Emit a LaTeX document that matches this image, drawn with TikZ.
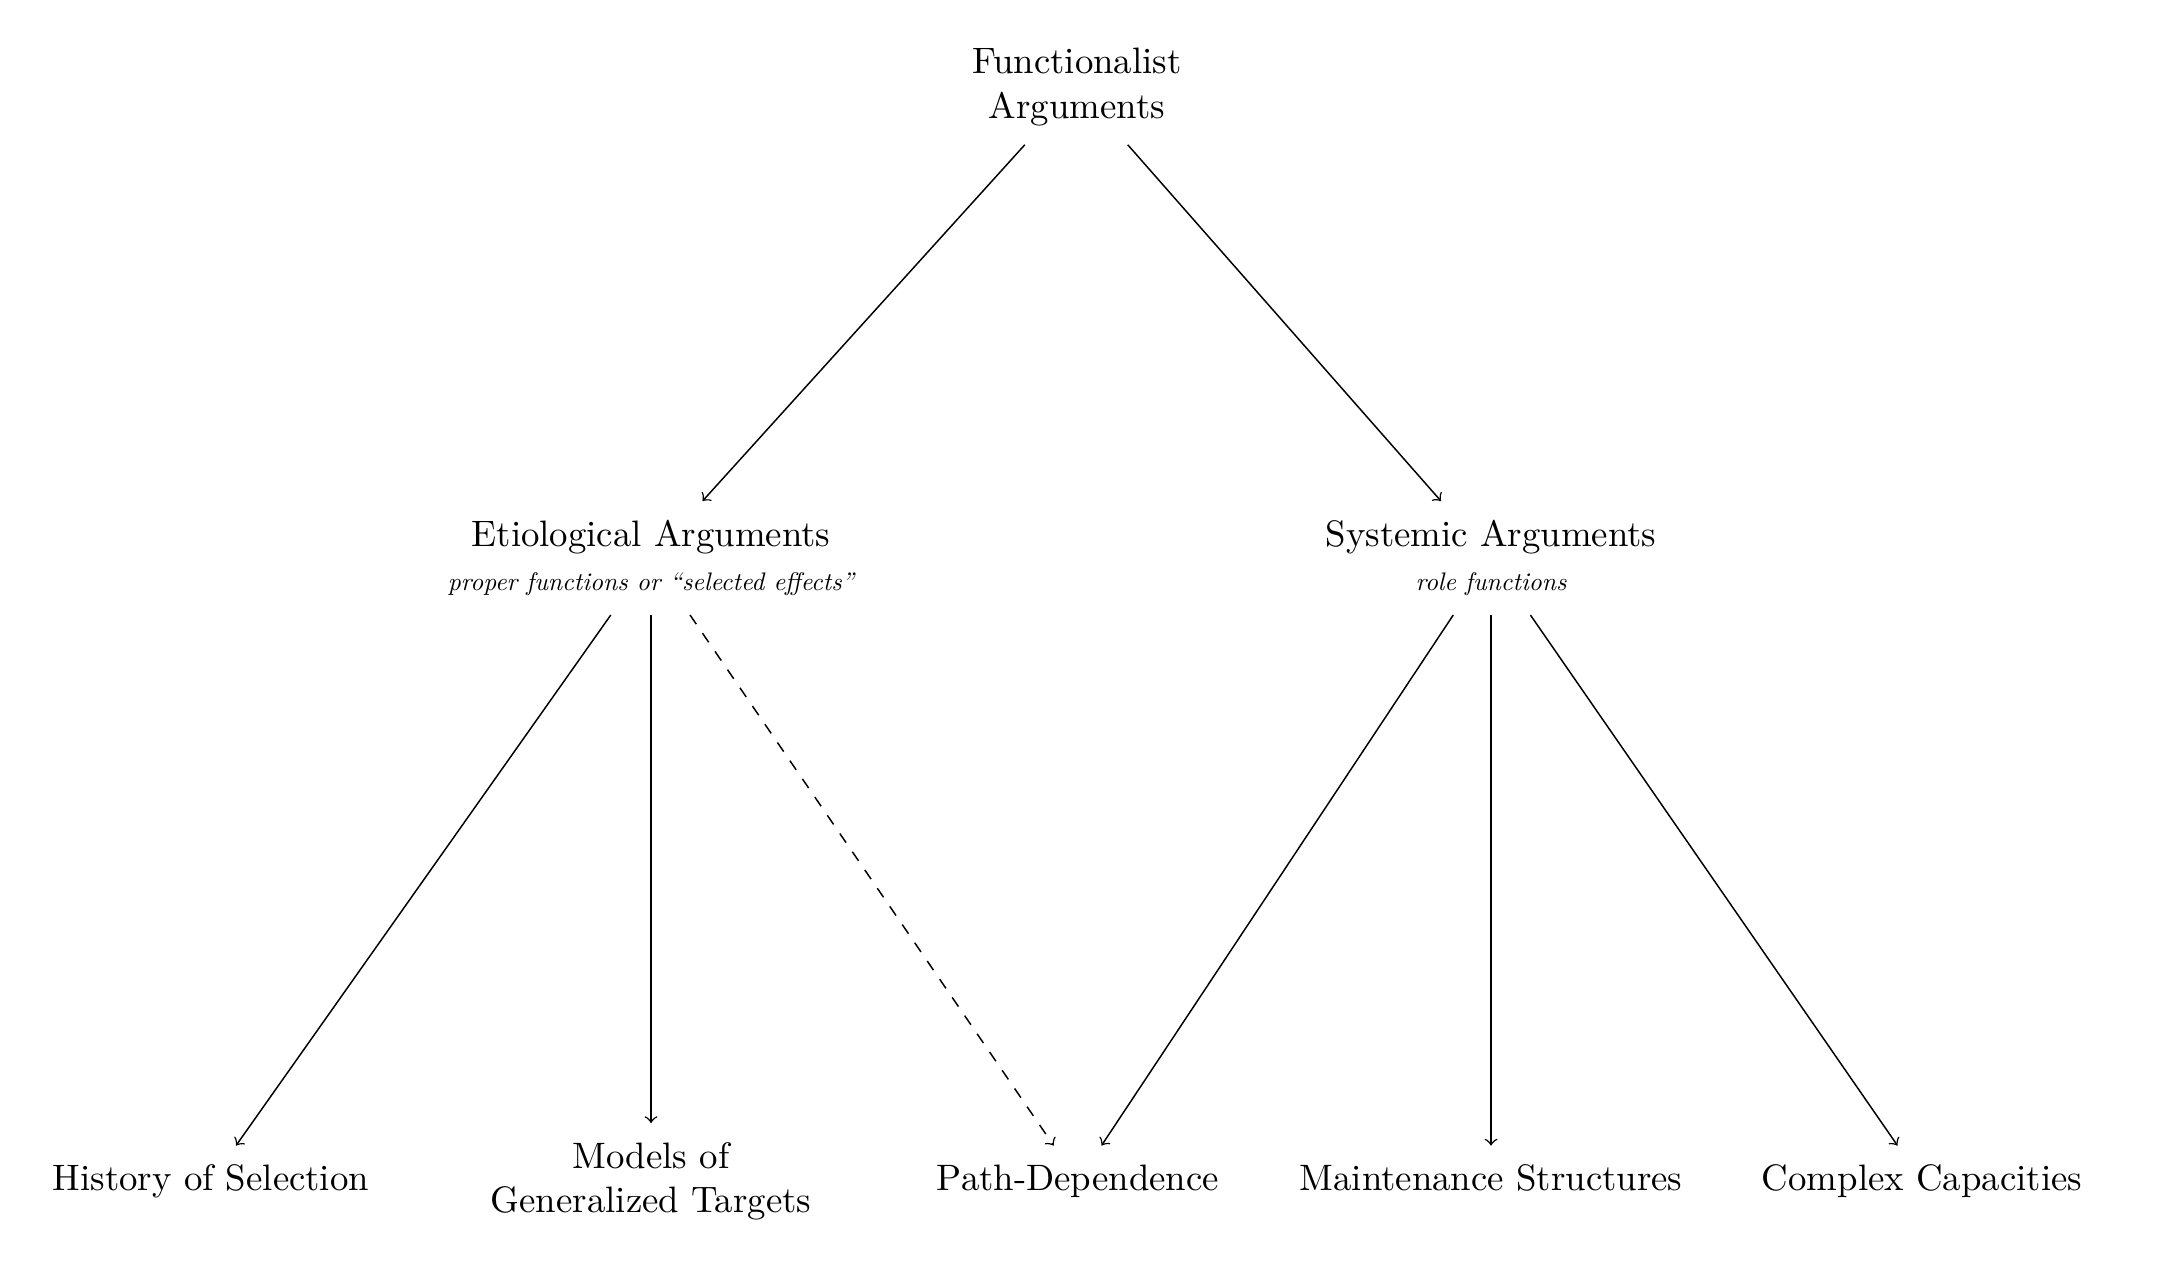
\documentclass[tikz,border=0pt]{standalone}
\font\subfnt="[lmroman10-italic.otf]" at 6.9pt
\begin{document}
\begin{tikzpicture}[x=0.27174pt,y=-0.27174pt,
  box/.style={align=center,inner sep=5pt},
  single/.style={box,text height=6.94pt,text depth=1.94pt},
  edge/.style={->},
  dedge/.style={->,dashed}]
\useasboundingbox (0,0) rectangle (2172,1266);
\node[box] (top) at (1077,87) {Functionalist\\Arguments};
\node[box] (etio) at (651,558) {Etiological Arguments\\{\subfnt proper functions or “selected effects”}};
\node[box] (syst) at (1491,558) {Systemic Arguments\\{\subfnt role functions}};
\node[single] (hist) at (211,1181) {History of Selection};
\node[box] (models) at (651,1181) {Models of\\Generalized Targets};
\node[single] (path) at (1078,1181) {Path-Dependence};
\node[single] (maint) at (1491,1181) {Maintenance Structures};
\node[single] (comp) at (1922,1181) {Complex Capacities};
\draw[edge] (top) -- (etio);
\draw[edge] (top) -- (syst);
\draw[edge] (etio) -- (hist);
\draw[edge] (etio) -- (models);
\draw[dedge] (etio) -- (path);
\draw[edge] (syst) -- (path);
\draw[edge] (syst) -- (maint);
\draw[edge] (syst) -- (comp);
\end{tikzpicture}
\end{document}
